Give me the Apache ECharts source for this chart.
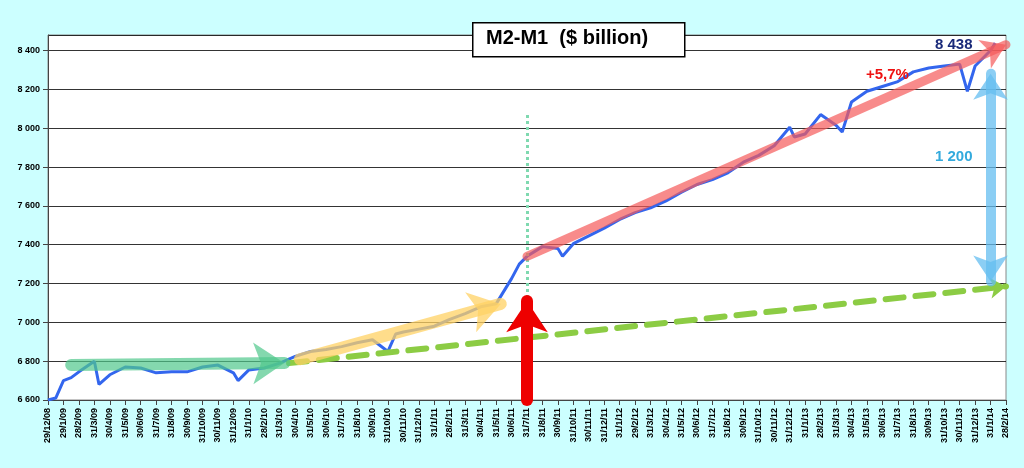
<!DOCTYPE html>
<html><head><meta charset="utf-8">
<script src="https://cdn.jsdelivr.net/npm/echarts@6/dist/echarts.min.js"></script>
<style>html,body{margin:0;background:#ccffff}#c{width:1024px;height:468px}</style>
</head><body><div id="c"></div>
<script>
var months = ['29/12/08','29/1/09','28/2/09','31/3/09','30/4/09','31/5/09','30/6/09','31/7/09','31/8/09','30/9/09','31/10/09','30/11/09','31/12/09',
  '31/1/10','28/2/10','31/3/10','30/4/10','31/5/10','30/6/10','31/7/10','31/8/10','30/9/10','31/10/10','30/11/10','31/12/10',
  '31/1/11','28/2/11','31/3/11','30/4/11','31/5/11','30/6/11','31/7/11','31/8/11','30/9/11','31/10/11','30/11/11','31/12/11',
  '31/1/12','29/2/12','31/3/12','30/4/12','31/5/12','30/6/12','31/7/12','31/8/12','30/9/12','31/10/12','30/11/12','31/12/12',
  '31/1/13','28/2/13','31/3/13','30/4/13','31/5/13','30/6/13','31/7/13','31/8/13','30/9/13','31/10/13','30/11/13','31/12/13',
  '31/1/14','28/2/14'];
// [month index, $ billion]
var m2m1 = [[0,6600],[0.5,6610],[1,6700],[1.5,6715],[2,6745],[3,6800],[3.3,6680],[4,6730],[5,6770],[6,6765],[7,6740],[8,6745],
  [9,6745],[10,6770],[11,6780],[12,6740],[12.3,6700],[13,6755],[14,6765],[15,6790],[16,6825],[17,6850],[18,6860],[19,6875],
  [20,6895],[21,6910],[22,6850],[22.5,6940],[23,6950],[24,6965],[25,6980],[26,7015],[27,7045],[28,7080],[29,7095],[30,7225],
  [30.5,7300],[31,7340],[32,7390],[33,7380],[33.3,7340],[34,7405],[35,7445],[36,7485],[37,7530],[38,7565],[39,7590],[40,7625],
  [41,7670],[42,7710],[43,7735],[44,7770],[45,7825],[46,7860],[47,7910],[48,8005],[48.3,7955],[49,7970],[50,8070],[51,8015],
  [51.4,7980],[52,8135],[53,8190],[54,8215],[55,8240],[56,8290],[57,8310],[58,8320],[59,8330],[59.5,8190],[60,8320],[61,8400],[61.3,8438]];
var yTicks = [6600, 6800, 7000, 7200, 7400, 7600, 7800, 8000, 8200, 8400];

function arrow(a, b, color, w, dash, both, z) {
  return {type:'line', data:[], silent:true, z:z || 2, markLine:{silent:true, animation:false,
    symbol:[both ? 'arrow' : 'none', 'arrow'], symbolSize:[w*2.6, w*2.6],
    lineStyle:{color:color, width:w, type:dash ? [18,12] : 'solid', cap:'round'}, label:{show:false},
    data:[[{coord:a},{coord:b}]]}};
}
var chart = echarts.init(document.getElementById('c'));
chart.setOption({
  animation:false,
  backgroundColor:'#ccffff',
  grid:{left:48, right:18, top:35, bottom:68, show:true, backgroundColor:'#fff', borderColor:'#888', borderWidth:1},
  xAxis:{type:'value', min:0, max:62, interval:1,
    axisLine:{lineStyle:{color:'#444'}}, axisTick:{lineStyle:{color:'#444'}}, splitLine:{show:false},
    axisLabel:{rotate:90, fontSize:9, fontWeight:'bold', color:'#000', fontFamily:'Liberation Sans', formatter:function(v){return months[v] || '';}}},
  yAxis:{type:'value', min:6600, max:8480, interval:200,
    axisLine:{show:true, lineStyle:{color:'#444'}}, splitLine:{lineStyle:{color:'#000', width:0.8}},
    axisLabel:{fontSize:9, fontWeight:'bold', color:'#000', fontFamily:'Liberation Sans', showMaxLabel:false,
      formatter:function(v){return yTicks.indexOf(v) < 0 ? '' : String(v).replace(/(\d)(\d{3})$/, '$1 $2');}}},
  series:[
    arrow([15.6,6790],[62,7185],'#8ccc44',6,true),
    arrow([1.5,6780],[15.3,6790],'rgba(80,200,140,0.7)',12),
    arrow([16.3,6810],[29.3,7095],'rgba(255,210,100,0.75)',12),
    {type:'line', data:[], markLine:{silent:true, symbol:'none', animation:false, label:{show:false},
      lineStyle:{color:'#7fd9b0', width:3, type:'dotted'}, data:[[{coord:[31,6600]},{coord:[31,8070]}]]}},
    {type:'line', data:m2m1, showSymbol:false, smooth:false, lineStyle:{color:'#3366ee', width:3}, z:3},
    arrow([31,7340],[62,8430],'rgba(245,90,90,0.7)',9,false,false,4),
    arrow([31,6600],[31,7110],'#ee0000',12,false,false,4),
    arrow([61,7210],[61,8280],'rgba(100,190,240,0.75)',10,false,true,4)
  ],
  graphic:[
    {type:'rect', left:472, top:22, shape:{width:212, height:34}, style:{fill:'#fff', stroke:'#000', lineWidth:1.5}, z:20},
    {type:'text', left:486, top:28, style:{text:'M2-M1  ($ billion)', font:'bold 20px Liberation Sans', fill:'#000'}, z:21},
    {type:'text', left:935, top:37, style:{text:'8 438', font:'bold 15px Liberation Sans', fill:'#1a2a7a'}, z:21},
    {type:'text', left:866, top:67, style:{text:'+5,7%', font:'bold 15px Liberation Sans', fill:'#ee1111'}, z:21},
    {type:'text', left:935, top:149, style:{text:'1 200', font:'bold 15px Liberation Sans', fill:'#33aadd'}, z:21}
  ]
});
</script></body></html>
